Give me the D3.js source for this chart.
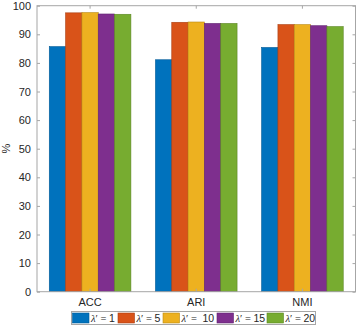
<!DOCTYPE html>
<html><head><meta charset="utf-8">
<script src="https://cdn.jsdelivr.net/npm/d3@7"></script>
<style>body{margin:0;background:#fff}svg{display:block}</style>
</head><body>
<svg id="c" width="360" height="327"></svg>
<script>
const categories = ["ACC", "ARI", "NMI"];
const seriesNames = ["1", "5", " 10", "15", "20"];
const lambda1  = [85.7, 81.1, 85.4];
const lambda5  = [97.5, 94.2, 93.4];
const lambda10 = [97.6, 94.3, 93.4];
const lambda15 = [97.1, 93.8, 93.0];
const lambda20 = [97.0, 93.8, 92.7];
const yTicks = [0, 10, 20, 30, 40, 50, 60, 70, 80, 90, 100];
const colors = ["#0072BD", "#D95319", "#EDB120", "#7E2F8E", "#77AC30"];
const edges  = ["#005A96", "#A93F12", "#B98A16", "#5F2270", "#5B8523"];

const values = [lambda1, lambda5, lambda10, lambda15, lambda20];
const svg = d3.select("#c");
const L = 37, R = 355.5, T = 5.7, B = 291.7;
const font = "'Liberation Sans', Arial, Helvetica, sans-serif";
const axisCol = "#a6a6a6", textCol = "#262626";

const x0 = d3.scaleBand().domain(categories).range([L, R]).padding(0);
const x1 = d3.scaleBand().domain(d3.range(seriesNames.length)).range([0, x0.bandwidth()]).paddingInner(0).paddingOuter(0.752);
const y = d3.scaleLinear().domain([0, 100]).range([B, T]);

const g = svg.append("g");
categories.forEach((c, ci) => {
  values.forEach((arr, si) => {
    g.append("rect")
      .attr("x", x0(c) + x1(si))
      .attr("y", y(arr[ci]))
      .attr("width", x1.bandwidth())
      .attr("height", y(0) - y(arr[ci]))
      .attr("fill", colors[si])
      .attr("stroke", edges[si])
      .attr("stroke-width", 0.6);
  });
});

svg.append("rect").attr("x", L).attr("y", T).attr("width", R - L).attr("height", B - T)
  .attr("fill", "none").attr("stroke", axisCol).attr("stroke-width", 1);

const yAxis = d3.axisLeft(y).tickValues(yTicks).tickSize(-3).tickPadding(6);
const ya = svg.append("g").attr("transform", `translate(${L},0)`).call(yAxis);
ya.select(".domain").remove();
ya.selectAll("line").attr("stroke", axisCol);
ya.selectAll("text").attr("font-family", font).attr("font-size", 11).attr("fill", textCol);
const yAxisR = d3.axisRight(y).tickValues(yTicks).tickSize(-3).tickFormat("");
const yr = svg.append("g").attr("transform", `translate(${R},0)`).call(yAxisR);
yr.select(".domain").remove();
yr.selectAll("line").attr("stroke", axisCol);

const xAxis = d3.axisBottom(x0).tickSize(-3).tickPadding(7);
const xa = svg.append("g").attr("transform", `translate(0,${B})`).call(xAxis);
xa.select(".domain").remove();
xa.selectAll("line").attr("stroke", axisCol);
xa.selectAll("text").attr("font-family", font).attr("font-size", 11).attr("fill", textCol);
const xAxisT = d3.axisTop(x0).tickSize(-3).tickFormat("");
const xt = svg.append("g").attr("transform", `translate(0,${T})`).call(xAxisT);
xt.select(".domain").remove();
xt.selectAll("line").attr("stroke", axisCol);

svg.append("text").attr("transform", `translate(10,${(T + B) / 2}) rotate(-90)`)
  .attr("text-anchor", "middle").attr("font-family", font).attr("font-size", 11)
  .attr("fill", textCol).text("%");

const lg = svg.append("g");
lg.append("rect").attr("x", 71.5).attr("y", 311.5).attr("width", 244).attr("height", 13)
  .attr("fill", "#fff").attr("stroke", "#a6a6a6").attr("stroke-width", 1);
const itemX = [72.5, 118, 163, 217, 267];
seriesNames.forEach((s, i) => {
  lg.append("rect").attr("x", itemX[i]).attr("y", 313).attr("width", 16.5).attr("height", 10)
    .attr("fill", colors[i]).attr("stroke", edges[i]).attr("stroke-width", 0.6);
  const t = lg.append("text").attr("x", itemX[i] + 18.5).attr("y", 322)
    .attr("font-size", 10.5).attr("fill", textCol).attr("xml:space", "preserve");
  t.append("tspan").attr("font-family", "'Liberation Serif', 'DejaVu Serif', serif").attr("font-style", "italic").text("λ");
  t.append("tspan").attr("font-family", "'Liberation Serif', serif").text("′ = ");
  t.append("tspan").attr("font-family", font).text(s);
});
</script>
</body></html>
